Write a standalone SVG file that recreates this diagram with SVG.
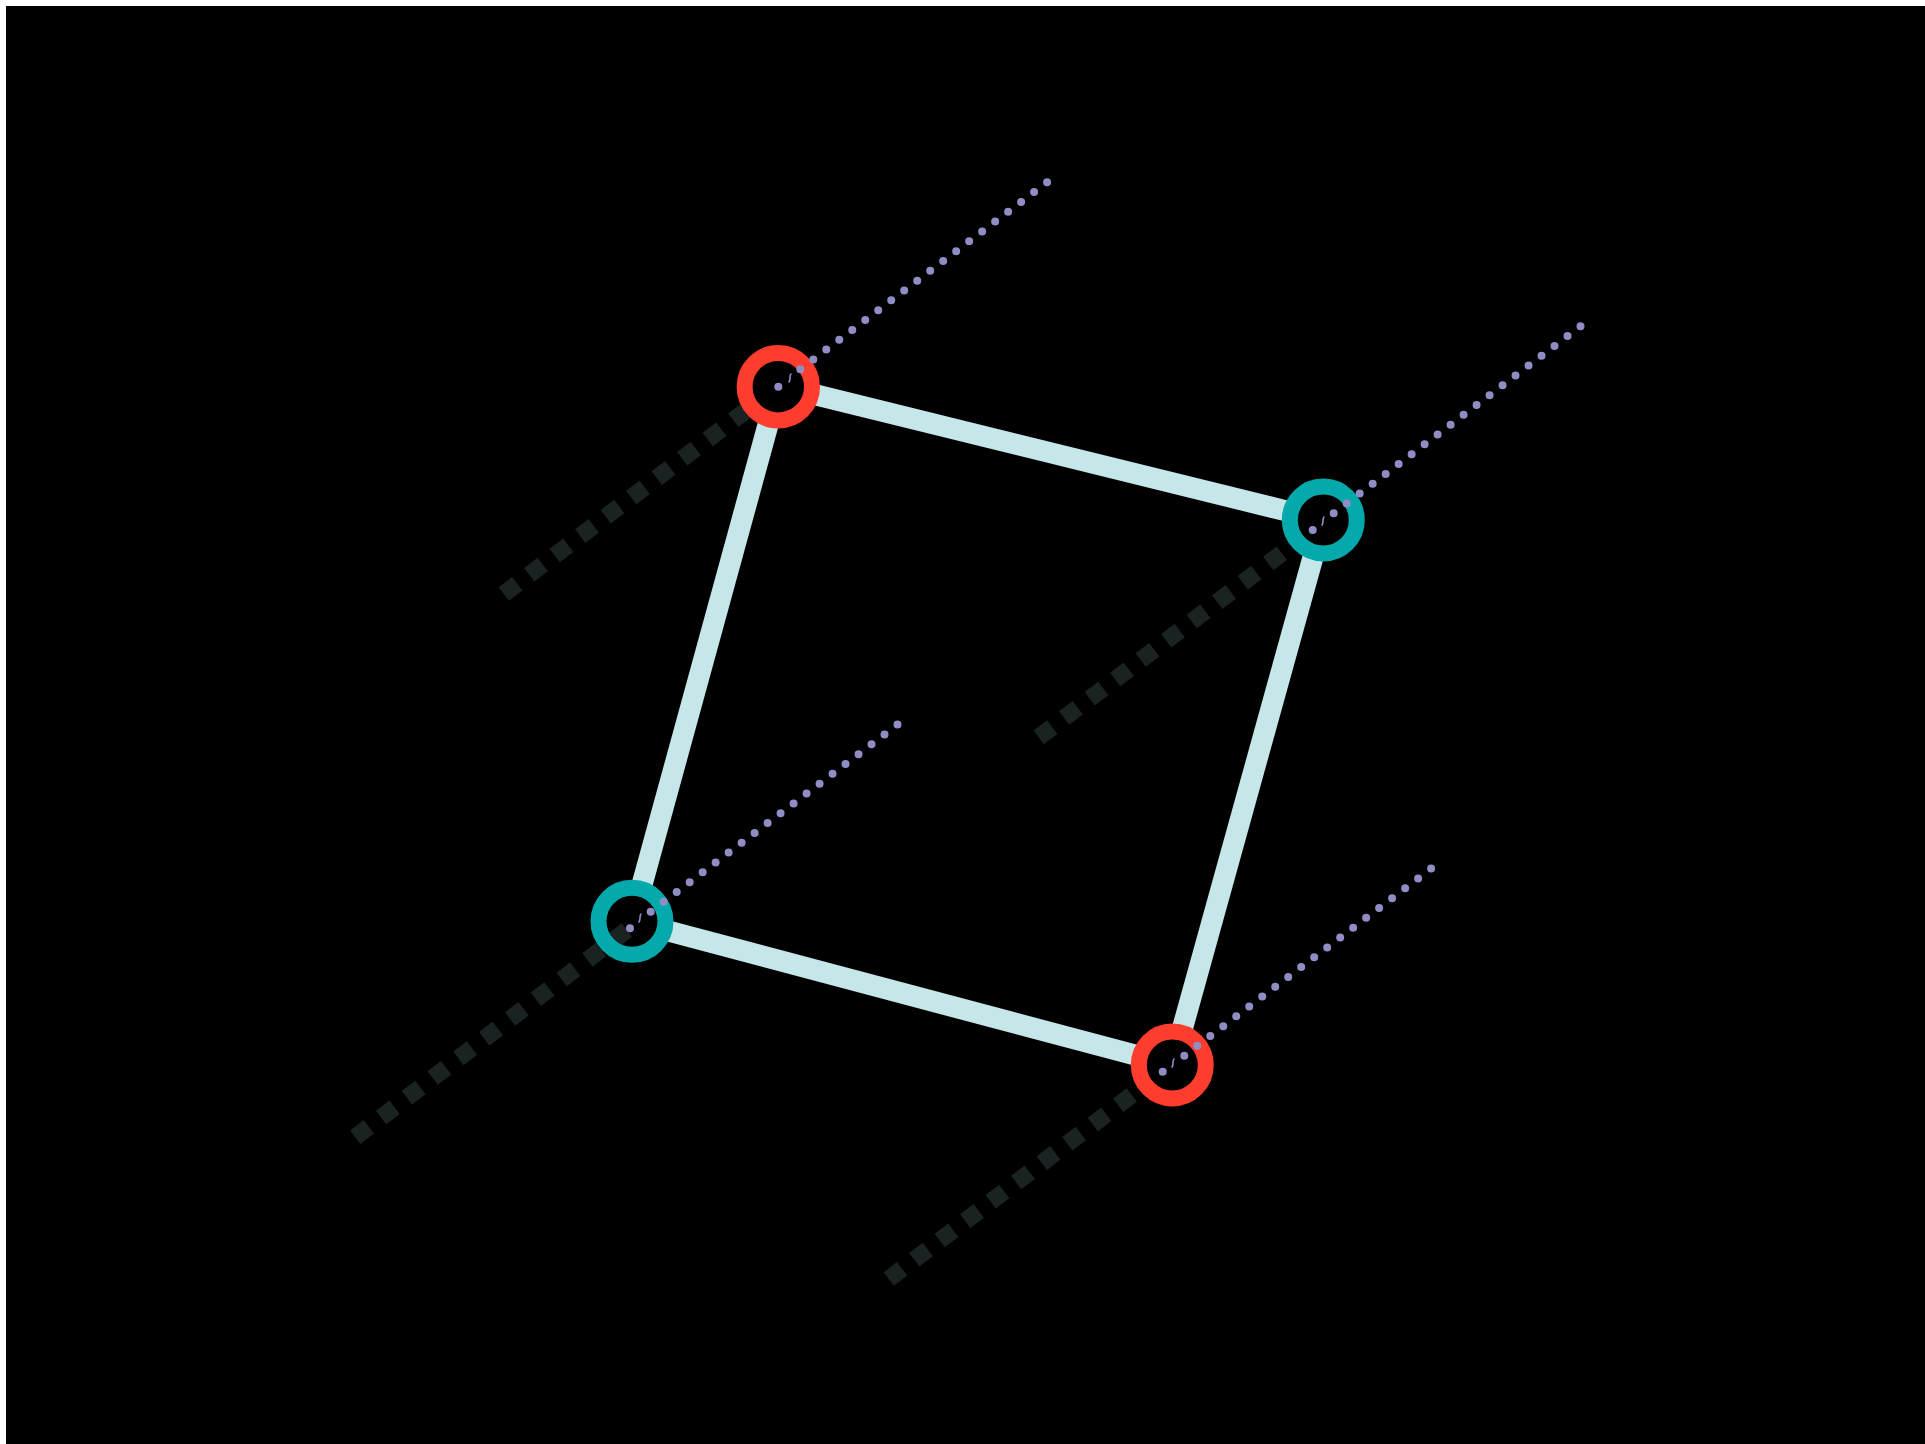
<svg xmlns="http://www.w3.org/2000/svg" width="1925" height="1444" viewBox="0 0 1925 1444">
<style>
.edge{stroke:#c6e7e9;stroke-width:21;stroke-linecap:butt;fill:none}
.dash{stroke:#1a2321;stroke-width:17;stroke-dasharray:17 15;stroke-linecap:butt;fill:none}
.dots{stroke:#8f8dc4;stroke-width:8;stroke-dasharray:0 16.3;stroke-linecap:round;fill:none}
.dot{fill:#8f8dc4}
.gl{stroke:#8f8dc4;stroke-width:1.6;fill:none;stroke-linecap:round}
.red{stroke:#ff3d2e;stroke-width:16;fill:none}
.teal{stroke:#04a9ab;stroke-width:16;fill:none}
</style>
<rect x="0" y="0" width="1925" height="1444" fill="#ffffff"/>
<rect x="6" y="6" width="1919" height="1438" fill="#000000"/>
<g id="shadows">
<line class="dash" x1="746.8" y1="409.9" x2="503.7" y2="594.1"/>
<line class="dash" x1="1281.8" y1="553.2" x2="1038.7" y2="737.4"/>
<line class="dash" style="stroke-dasharray:17 15.46" x1="626.8" y1="929.9" x2="355.2" y2="1137.2"/>
<line class="dash" x1="1131.8" y1="1094.9" x2="888.7" y2="1279.1"/>
</g>
<g id="connectors">
<line class="edge" x1="813.3" y1="394.3" x2="1288.3" y2="511.4"/>
<line class="edge" x1="1313.7" y1="554.7" x2="1181.9" y2="1030.3"/>
<line class="edge" x1="1137.5" y1="1055.7" x2="666.8" y2="930.6"/>
<line class="edge" x1="641.5" y1="886.6" x2="768.8" y2="422"/>
</g>
<g id="node-top"><circle class="red" cx="778.3" cy="386.7" r="33.7"/></g>
<g id="node-right"><circle class="teal" cx="1323.3" cy="520" r="33.5"/></g>
<g id="node-left"><circle class="teal" cx="632" cy="921.3" r="33.5"/></g>
<g id="node-bottom"><circle class="red" cx="1172.3" cy="1065" r="33.5"/></g>
<g id="rays">
<circle class="dot" cx="778.3" cy="386.7" r="4"/>
<path class="gl" d="M791 374 C789 376 791 379 789 382"/>
<line class="dots" x1="800.3" y1="369.3" x2="1047.1" y2="182.2"/>
<circle class="dot" cx="1312.7" cy="530" r="4"/>
<path class="gl" d="M1324 517 C1322 519 1324 522 1322 525"/>
<line class="dots" x1="1333.7" y1="513.3" x2="1580.5" y2="326.2"/>
<circle class="dot" cx="630" cy="928.3" r="4"/>
<path class="gl" d="M641 914 C639 916 641 919 639 922"/>
<line class="dots" x1="650.7" y1="911.7" x2="897.5" y2="724.6"/>
<circle class="dot" cx="1162.7" cy="1071.7" r="4"/>
<path class="gl" d="M1174 1059 C1172 1061 1174 1064 1172 1067"/>
<line class="dots" x1="1184.3" y1="1055.7" x2="1431.1" y2="868.6"/>
</g>
</svg>
